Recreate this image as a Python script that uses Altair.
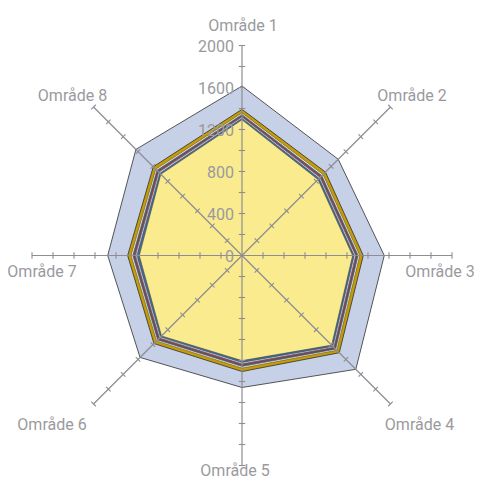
import math
import altair as alt
import pandas as pd

# ---------------- data ----------------
areas = ["Område 1", "Område 2", "Område 3", "Område 4",
         "Område 5", "Område 6", "Område 7", "Område 8"]

# series, outermost first
s_blue   = [1614, 1296, 1355, 1533, 1257, 1373, 1279, 1429]
s_gold   = [1392, 1124, 1155, 1310, 1105, 1186, 1089, 1195]
s_cream  = [1358, 1090, 1121, 1276, 1072, 1150, 1056, 1161]
s_gray   = [1344, 1076, 1107, 1262, 1058, 1137, 1041, 1147]
s_purple = [1332, 1064, 1094, 1249, 1045, 1124, 1028, 1134]
s_cyan   = [1320, 1051, 1082, 1237, 1032, 1111, 1015, 1121]
s_navy   = [1307, 1039, 1069, 1224, 1019, 1099, 1002, 1108]
s_yellow = [1292, 1023, 1053, 1207, 1001, 1083, 978, 1093]

series_values = [s_blue, s_gold, s_cream, s_gray, s_purple, s_cyan, s_navy, s_yellow]
series_colors = ["#c6d0e6", "#c39c08", "#fbf8ea", "#6a6a76", "#a4557a",
                 "#d6eef4", "#4a6a94", "#f9eb8e"]

tick_values = [200, 400, 600, 800, 1000, 1200, 1400, 1600, 1800, 2000]
label_values = [0, 400, 800, 1200, 1600, 2000]
axis_max = 2000

# ---------------- layout / style ----------------
W, H = 467, 474
CX, CY = 234, 247.5         # centre inside the view, pixels
PX = 2000 / 210.0           # data units per pixel
XDOM = [-CX * PX, (W - CX) * PX]
YDOM = [-(H - CY) * PX, CY * PX]
# label nudges in pixels relative to spoke end
label_nudge = [(1, 19.5), (21.5, 11), (-12, -16.5), (29, -21),
               (-7, -5), (-41.5, -21), (10, -16.5), (-21, 11)]
GRAY = "#9a9a9e"
FONT = "Roboto"

n = len(areas)
angles = [i * 2 * math.pi / n for i in range(n)]

xs = alt.Scale(domain=XDOM, nice=False, zero=False)
ys = alt.Scale(domain=YDOM, nice=False, zero=False)
X = lambda f: alt.X(f, type="quantitative", scale=xs, axis=None)
Y = lambda f: alt.Y(f, type="quantitative", scale=ys, axis=None)

layers = []
for k, (vals, col) in enumerate(zip(series_values, series_colors)):
    df = pd.DataFrame({
        "idx": list(range(n)),
        "x": [v * math.sin(a) for v, a in zip(vals, angles)],
        "y": [v * math.cos(a) for v, a in zip(vals, angles)],
    })
    layers.append(
        alt.Chart(df).mark_line(interpolate="linear-closed", filled=True,
                                fill=col, stroke="#2e2e2e",
                                strokeWidth=0.8 if k < 2 else 0.45)
        .encode(x=X("x"), y=Y("y"), order=alt.Order("idx:Q"))
    )

# spokes
spk = pd.DataFrame({
    "x0": [0.0] * n, "y0": [0.0] * n,
    "x1": [axis_max * math.sin(a) for a in angles],
    "y1": [axis_max * math.cos(a) for a in angles],
})
layers.append(
    alt.Chart(spk).mark_rule(color="#8e8e92", strokeWidth=1.2)
    .encode(x=X("x0"), y=Y("y0"), x2="x1", y2="y1")
)

# ticks
h = 3.2 * PX
rows = []
for a in angles:
    for t in tick_values:
        cx, cy = t * math.sin(a), t * math.cos(a)
        px, py = math.cos(a), -math.sin(a)
        rows.append({"x0": cx - h * px, "y0": cy - h * py,
                     "x1": cx + h * px, "y1": cy + h * py})
layers.append(
    alt.Chart(pd.DataFrame(rows)).mark_rule(color="#8e8e92", strokeWidth=1.1)
    .encode(x=X("x0"), y=Y("y0"), x2="x1", y2="y1")
)

# value labels on the vertical axis
vl = pd.DataFrame({"x": [0.0] * len(label_values), "y": label_values,
                   "t": [str(v) for v in label_values]})
layers.append(
    alt.Chart(vl).mark_text(align="right", baseline="middle", dx=-8, dy=1,
                            font=FONT, fontSize=16, color=GRAY)
    .encode(x=X("x"), y=Y("y"), text="t:N")
)

# area labels
al = pd.DataFrame({
    "t": areas,
    "x": [axis_max * math.sin(a) + nx * PX for a, (nx, ny) in zip(angles, label_nudge)],
    "y": [axis_max * math.cos(a) + ny * PX for a, (nx, ny) in zip(angles, label_nudge)],
})
layers.append(
    alt.Chart(al).mark_text(align="center", baseline="middle",
                            font=FONT, fontSize=16, color=GRAY)
    .encode(x=X("x"), y=Y("y"), text="t:N")
)

chart = alt.layer(*layers).properties(
    width=W, height=H, padding=0,
    autosize=alt.AutoSizeParams(type="none"),
).configure_view(stroke=None)

chart.save("out.html", embed_options={"renderer": "svg", "actions": False})
